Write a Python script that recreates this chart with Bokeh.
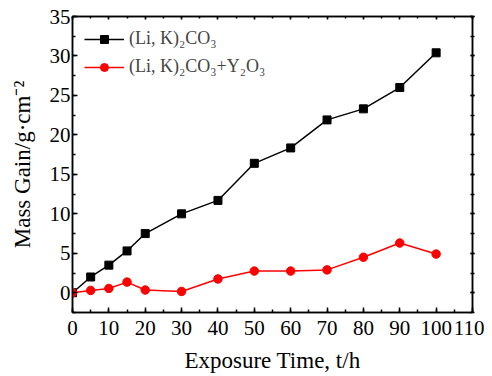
from bokeh.plotting import figure
from bokeh.models import LinearAxis, SingleIntervalTicker, Legend, LegendItem, Range1d
from bokeh.embed import file_html
from bokeh.resources import INLINE

time_h = [0, 5, 10, 15, 20, 30, 40, 50, 60, 70, 80, 90, 100]
gain_carbonate = [0.0, 2.0, 3.5, 5.3, 7.5, 10.0, 11.7, 16.4, 18.35, 21.9, 23.3, 26.0, 30.4]
gain_carbonate_y2o3 = [0.0, 0.3, 0.55, 1.35, 0.35, 0.17, 1.75, 2.75, 2.75, 2.9, 4.5, 6.3, 4.9]
label_a = "(Li, K)₂CO₃"
label_b = "(Li, K)₂CO₃+Y₂O₃"

FONT = "Liberation Serif"

p = figure(width=484, height=376, output_backend="svg", toolbar_location=None,
           x_range=Range1d(0, 110), y_range=Range1d(-2.5, 35),
           min_border_left=72, min_border_right=12, min_border_top=16, min_border_bottom=64)
p.xgrid.visible = False
p.ygrid.visible = False
p.outline_line_color = "black"
p.outline_line_width = 1.5

l1 = p.line(time_h, gain_carbonate, color="black", line_width=1.5)
m1 = p.scatter(time_h, gain_carbonate, marker="square", size=8, color="black")
l2 = p.line(time_h, gain_carbonate_y2o3, color="#ff0000", line_width=1.5)
m2 = p.scatter(time_h, gain_carbonate_y2o3, marker="circle", size=8.5, color="#ff0000")

p.xaxis.ticker = SingleIntervalTicker(interval=10, num_minor_ticks=2)
p.yaxis.ticker = SingleIntervalTicker(interval=5, num_minor_ticks=2)

for ax in (p.xaxis[0], p.yaxis[0]):
    ax.axis_line_width = 1.5
    ax.major_tick_in = 5
    ax.major_tick_out = 0
    ax.minor_tick_in = 3
    ax.minor_tick_out = 0
    ax.major_tick_line_width = 1.5
    ax.minor_tick_line_width = 1.5
    ax.major_label_text_font = FONT
    ax.major_label_text_font_size = "21px"
    ax.major_label_text_color = "black"
    ax.axis_label_text_font = FONT
    ax.axis_label_text_font_size = "23px"
    ax.axis_label_text_font_style = "normal"
    ax.axis_label_text_color = "black"

p.xaxis.axis_label = "Exposure Time, t/h"
p.yaxis.axis_label = "Mass Gain/g·cm⁻²"
p.xaxis.major_label_standoff = 8
p.yaxis.major_label_standoff = 2
p.xaxis.axis_label_standoff = 10
p.yaxis.axis_label_standoff = 12

top = LinearAxis(ticker=SingleIntervalTicker(interval=10, num_minor_ticks=2), major_label_text_font_size="0px",
                 major_tick_in=3, major_tick_out=0, minor_tick_in=2, minor_tick_out=0, axis_line_width=1.5)
right = LinearAxis(ticker=SingleIntervalTicker(interval=5, num_minor_ticks=2), major_label_text_font_size="0px",
                   major_tick_in=2, major_tick_out=2, minor_tick_in=2, minor_tick_out=2, axis_line_width=1.5)
for a in (top, right):
    a.major_label_standoff = 0
    a.major_tick_line_width = 1.5
    a.minor_tick_line_width = 1.5
p.add_layout(top, "above")
p.add_layout(right, "right")

legend = Legend(items=[LegendItem(label=label_a, renderers=[l1, m1]),
                       LegendItem(label=label_b, renderers=[l2, m2])],
                location="top_left", border_line_alpha=0, background_fill_alpha=0,
                label_text_font=FONT, label_text_font_size="18px",
                glyph_width=40, label_standoff=5, spacing=7, margin=8, padding=4)
p.add_layout(legend)

open("out.html", "w").write(file_html(p, INLINE))
